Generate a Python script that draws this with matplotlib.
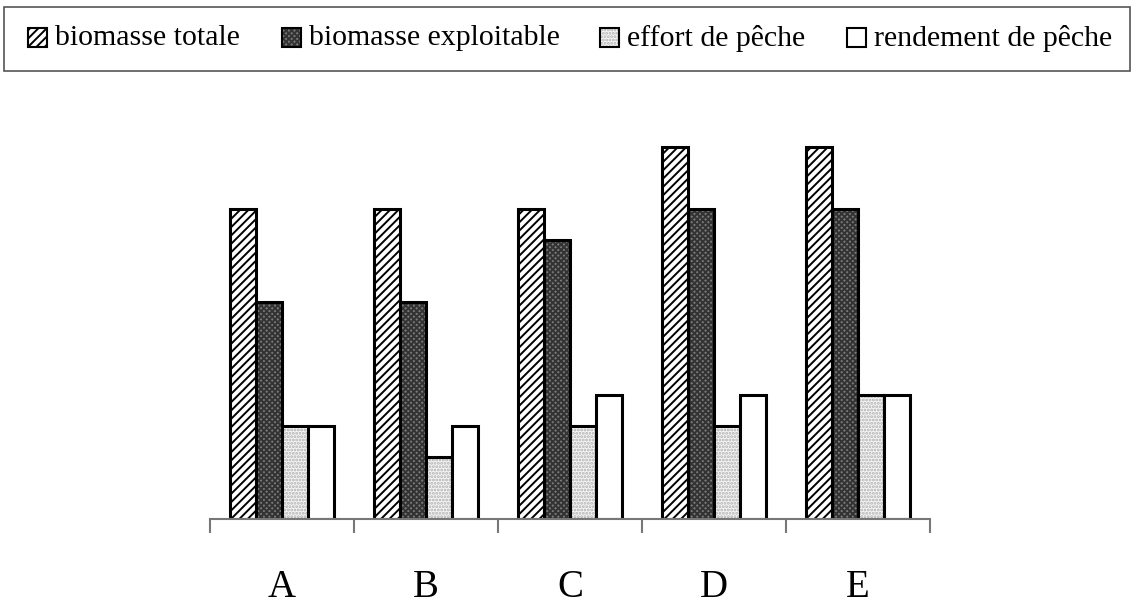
import numpy as np
import matplotlib
matplotlib.use("Agg")
import matplotlib.pyplot as plt
from matplotlib.patches import Rectangle
from matplotlib.transforms import blended_transform_factory

plt.rcParams['font.family'] = ['Liberation Serif', 'DejaVu Serif']
plt.rcParams['hatch.linewidth'] = 1.4

# Daten
zonen = ["A", "B", "C", "D", "E"]
serien = ["biomasse totale", "biomasse exploitable", "effort de pêche", "rendement de pêche"]
biomasse_totale = [10, 10, 10, 12, 12]
biomasse_exploitable = [7, 7, 9, 10, 10]
effort_peche = [3, 2, 3, 3, 4]
rendement_peche = [3, 3, 4, 4, 4]

werte = [biomasse_totale, biomasse_exploitable, effort_peche, rendement_peche]
# (Fuellfarbe, Schraffur, Schraffurfarbe)
stile = [
    ("white", "////", "black"),
    ("#7a7a7a", "xxxxxx", "#333333"),
    ("#f6f6f6", ".....", "#b0b0b0"),
    ("white", None, "white"),
]

W, H = 1131, 605
fig = plt.figure(figsize=(W / 100, H / 100), dpi=100)
ax = fig.add_axes([210 / W, (H - 519) / H, 720 / W, (519 - 100) / H])

x = np.arange(len(zonen))
breite = 0.18
for i, (vals, (fc, hatch, hc)) in enumerate(zip(werte, stile)):
    pos = x - 0.36 + breite * (i + 0.5)
    # Fuellung mit Schraffur
    ax.bar(pos, vals, breite, color=fc, hatch=hatch, edgecolor=hc, linewidth=0)
    # schwarzer Rahmen
    ax.bar(pos, vals, breite, fill=False, edgecolor="black", linewidth=2.2)

ax.set_xlim(-0.5, len(zonen) - 0.5)
ax.set_ylim(0, (519 - 100) / 31)
for s in ["top", "right", "left"]:
    ax.spines[s].set_visible(False)
ax.spines["bottom"].set_color("#777777")
ax.spines["bottom"].set_linewidth(1.5)
ax.set_yticks([])
ax.set_xticks(np.arange(len(zonen) + 1) - 0.5)
ax.set_xticklabels([])
ax.tick_params(axis="x", which="major", length=10, width=1.5, color="#777777", direction="out")

# Kategorien unter der Achse
trans = blended_transform_factory(ax.transData, fig.transFigure)
for xi, name in zip(x, zonen):
    ax.text(xi, 1 - 597 / H, name, transform=trans, fontsize=28,
            ha="center", va="baseline", clip_on=False)

# Legende (Kasten oben)
fig.patches.append(Rectangle((4 / W, 1 - 71 / H), 1126 / W, 64 / H, transform=fig.transFigure,
                             fill=False, edgecolor="#555555", linewidth=1.2))
patch_x = [28, 282, 600, 847]
for i, (name, (fc, hatch, hc)) in enumerate(zip(serien, stile)):
    px = patch_x[i]
    fig.patches.append(Rectangle((px / W, 1 - 47 / H), 19 / W, 19 / H, transform=fig.transFigure,
                                 facecolor=fc, hatch=hatch, edgecolor=hc, linewidth=0))
    fig.patches.append(Rectangle((px / W, 1 - 47 / H), 19 / W, 19 / H, transform=fig.transFigure,
                                 fill=False, edgecolor="black", linewidth=1.5))
    fig.text((px + 27) / W, 1 - 38 / H, name, fontsize=21.5, va="center", ha="left")

fig.savefig("out.png", dpi=100)
